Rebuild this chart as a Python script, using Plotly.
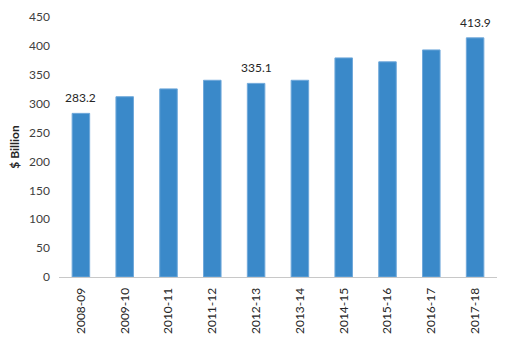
import plotly.graph_objects as go

categories = ["2008-09", "2009-10", "2010-11", "2011-12", "2012-13",
              "2013-14", "2014-15", "2015-16", "2016-17", "2017-18"]
values = [283.2, 312.0, 325.6, 340.5, 335.1, 340.5, 379.2, 372.4, 393.0, 413.9]
labelled = ["2008-09", "2012-13", "2017-18"]

fig = go.Figure()
fig.add_trace(go.Bar(
    x=categories, y=values,
    marker=dict(color="#3A89C9", line=dict(color="#6FA8DA", width=1)),
    hoverinfo="skip",
))

for c, v in zip(categories, values):
    if c in labelled:
        fig.add_annotation(x=c, y=v, text=f"{v:.1f}", showarrow=False,
                           yanchor="bottom", yshift=6,
                           font=dict(family="Lato", size=12, color="#262626"))

fig.update_layout(
    width=506, height=343,
    margin=dict(l=59, r=9, t=15, b=65),
    paper_bgcolor="white", plot_bgcolor="white",
    bargap=0.6,
    showlegend=False,
    font=dict(family="Lato", size=12, color="#404040"),
    xaxis=dict(
        type="category",
        tickangle=-90, showgrid=False, showline=True, linecolor="#C8C8C8",
        linewidth=1, ticks="", ticklabelstandoff=5,
        tickfont=dict(size=12, color="#262626"),
    ),
    yaxis=dict(
        range=[0, 450], dtick=50, showgrid=False, zeroline=False,
        showline=False, ticks="", ticklabelstandoff=8,
        tickfont=dict(size=12, color="#404040"),
        title=dict(text="<b>$ Billion</b>", standoff=6,
                   font=dict(size=12, color="#262626")),
    ),
)

fig.write_html("out.html")
